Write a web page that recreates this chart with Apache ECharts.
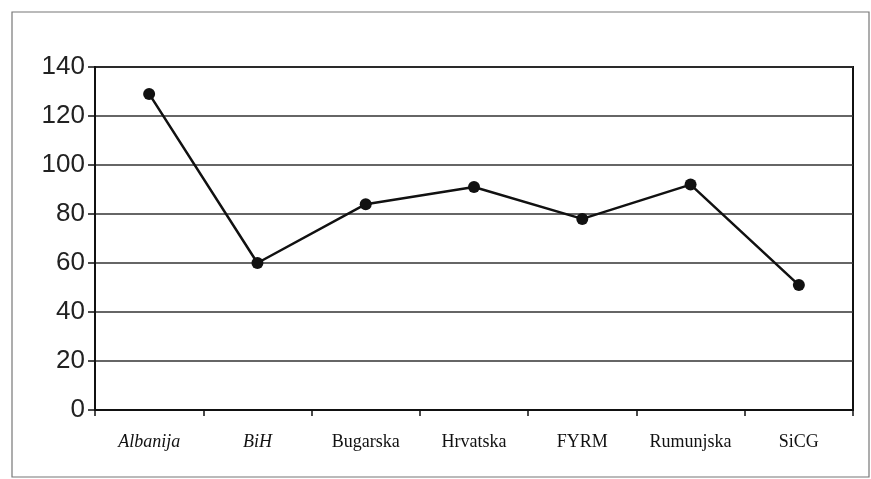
<!DOCTYPE html>
<html><head><meta charset="utf-8">
<script src="https://cdn.jsdelivr.net/npm/echarts@6/dist/echarts.min.js"></script>
<style>html,body{margin:0;padding:0;background:#fff}#c{width:871px;height:479px}</style>
</head><body><div id="c"></div>
<script>
const categories = ['Albanija','BiH','Bugarska','Hrvatska','FYRM','Rumunjska','SiCG'];
const values = [129, 60, 84, 91, 78, 92, 51];
const italicCats = ['Albanija','BiH'];
const yTicks = [0,20,40,60,80,100,120,140];

const chart = echarts.init(document.getElementById('c'), null, {renderer:'canvas'});
chart.setOption({
  animation:false,
  backgroundColor:'#fff',
  graphic:[{type:'rect',shape:{x:12,y:12,width:857,height:465},style:{fill:'none',stroke:'#777',lineWidth:1.2},silent:true}],
  grid:{left:95,right:18,top:67,bottom:69,show:true,borderColor:'#111',borderWidth:2,backgroundColor:'transparent'},
  xAxis:{type:'category',data:categories,boundaryGap:true,
    axisLine:{lineStyle:{color:'#111',width:2}},
    axisTick:{show:true,interval:0,alignWithLabel:false,length:6,lineStyle:{color:'#111',width:1.5}},
    axisLabel:{interval:0,hideOverlap:false,margin:23,fontFamily:'Liberation Serif',fontSize:18,color:'#111',
      formatter:v=>italicCats.includes(v)?'{i|'+v+'}':v,
      rich:{i:{fontStyle:'italic',fontFamily:'Liberation Serif',fontSize:18,color:'#111'}}},
    splitLine:{show:false}},
  yAxis:{type:'value',min:0,max:140,interval:20,
    axisLine:{show:true,lineStyle:{color:'#111',width:2}},
    axisTick:{show:true,length:7,lineStyle:{color:'#111',width:1.5}},
    axisLabel:{margin:10,fontFamily:'Liberation Sans',fontSize:26,color:'#222',
      formatter:v=>yTicks.includes(v)?String(v):''},
    splitLine:{show:true,lineStyle:{color:'#333',width:1.5}}},
  series:[{type:'line',data:values,symbol:'circle',symbolSize:12,
    lineStyle:{color:'#111',width:2.5},itemStyle:{color:'#111'}}]
});
</script></body></html>
